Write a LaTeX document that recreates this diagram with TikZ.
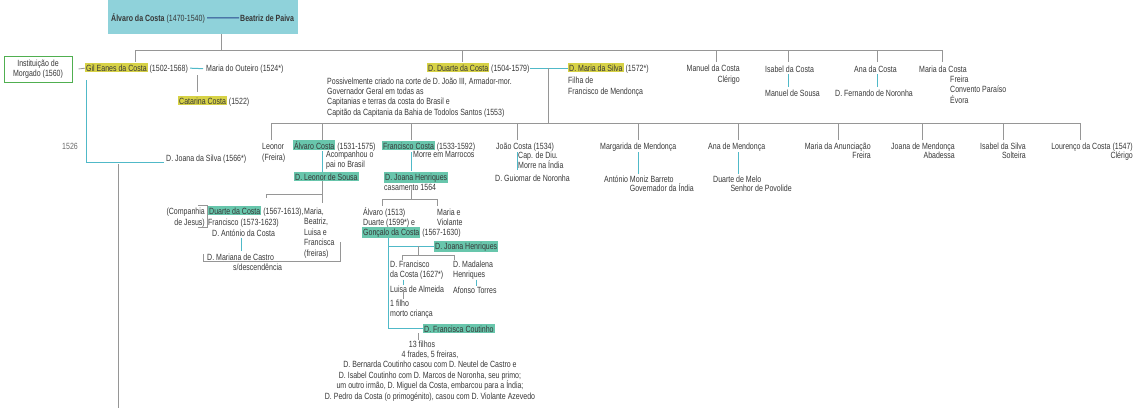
\documentclass[tikz,border=0pt]{standalone}
\usepackage{fontspec}
\setmainfont{Liberation Sans}[FakeStretch=0.78]
\usepackage{tikz}
\definecolor{hlyel}{RGB}{215,210,70}
\definecolor{hltea}{RGB}{104,198,172}
\definecolor{topbg}{RGB}{143,210,218}
\definecolor{lntea}{RGB}{80,185,200}
\definecolor{lngry}{RGB}{150,150,150}
\definecolor{txgry}{RGB}{55,55,55}
\definecolor{boxgr}{RGB}{80,175,80}
\definecolor{lnblu}{RGB}{40,70,140}
\tikzset{
	lbl/.style    = {anchor=base west, inner sep=0pt, text=txgry, align=left},
	lblr/.style   = {anchor=base east, inner sep=0pt, text=txgry, align=right},
	lblc/.style   = {anchor=base, inner sep=0pt, text=txgry, align=center},
	topbox/.style = {fill=topbg, minimum width=190pt, minimum height=34pt, inner sep=0pt},
	inst/.style   = {draw=boxgr, line width=1pt, minimum width=68pt,
		minimum height=26pt, align=center, text=txgry, inner sep=1pt},
	gline/.style  = {draw=lngry, line width=0.8pt},
	tline/.style  = {draw=lntea, line width=1pt},
	bline/.style  = {draw=lnblu, line width=1pt}
}
\newcommand{\ylw}[1]{{\setlength{\fboxsep}{1pt}\colorbox{hlyel}{#1}}}
\newcommand{\tea}[1]{{\setlength{\fboxsep}{1pt}\colorbox{hltea}{#1}}}

\begin{document}
\begin{tikzpicture}[x=1pt, y=-1pt, font=\fontsize{9}{10.5}\selectfont]
	\useasboundingbox (0,0) rectangle (1139,408);

	% casal inicial
	\node[topbox] (a0) at (203,17) {};
	\draw
	node at (111,21)[lbl] (a1) {\textbf{Álvaro da Costa} (1470-1540)}
	node at (240,21)[lbl] (a2) {\textbf{Beatriz de Paiva}};
	\draw[bline] ([xshift=2pt]a1.east) -- ([xshift=-1pt]a2.west);

	% filhos
	\coordinate (k0) at (221,34);
	\foreach \x/\n in {221/t0,135/t1,462/t2,716/t3,788/t4,877/t5,942/t6}
		\coordinate (\n) at (\x,50);
	\draw[gline] (k0) -- (t0);
	\draw[gline] (t1) -- (t6);
	\foreach \n in {t1,t2,t3,t4,t5,t6}
		\draw[gline] (\n) -- ++(0,12);

	\draw
	node at (38,69)[inst] (in) {Instituição de\\Morgado (1560)}
	node at (85,71)[lbl] (gil) {\ylw{Gil Eanes da Costa} (1502-1568)}
	node at (206,71)[lbl] (mou) {Maria do Outeiro (1524*)}
	node at (178,104)[lbl] (cat) {\ylw{Catarina Costa} (1522)}
	node at (62,149)[lbl, text=lngry!70!black] (y1) {1526}
	node at (166,161)[lbl] (jsi) {D. Joana da Silva (1566*)};
	\draw[gline] ([xshift=6pt]in.east) -- (gil.west);
	\draw[tline] ([xshift=2pt]gil.east) -- ([xshift=-3pt]mou.west);
	\coordinate (c1) at (197,75);
	\draw[gline] (c1) -- ++(0,17);
	\draw[tline] ([xshift=1pt,yshift=-7pt]gil.south west) |- ([xshift=-2pt,yshift=-1pt]jsi.base west);
	\coordinate (c3) at (118,164);
	\coordinate (c4) at (118,408);
	\draw[gline] (c3) -- (c4);

	\draw
	node at (427,71)[lbl] (dua) {\ylw{D. Duarte da Costa} (1504-1579)}
	node at (568,71)[lbl] (msi) {\ylw{D. Maria da Silva} (1572*)}
	node at (568,94)[lbl] (msf) {Filha de\\Francisco de Mendonça}
	node at (327,115)[lbl, font=\fontsize{9}{10.3}\selectfont] (dud) {Possivelmente criado na corte de D. João III, Armador-mor.\\Governador Geral em todas as\\Capitanias e terras da costa do Brasil e\\Capitão da Capitania da Bahia de Todolos Santos (1553)};
	\draw[tline] (dua.east) -- (msi.west);
	\coordinate (m1) at (548,68);
	\coordinate (u0) at (548,123);
	\draw[gline] (m1) -- (u0);

	\draw
	node at (740,82)[lblr] (man) {Manuel da Costa\\Clérigo}
	node at (765,72)[lbl] (isa) {Isabel da Costa}
	node at (765,96)[lbl] (msou) {Manuel de Sousa}
	node at (854,72)[lbl] (ana) {Ana da Costa}
	node at (835,96)[lbl] (fno) {D. Fernando de Noronha}
	node at (919,72)[lbl] (mco) {Maria da Costa}
	node at (950,103)[lbl] (mcn) {Freira\\Convento Paraíso\\Évora};
	\draw[tline, shorten <=2pt, shorten >=2pt] (isa.south -| t4) -- (msou.north -| t4);
	\draw[tline, shorten <=2pt, shorten >=2pt] (ana.south -| t5) -- (fno.north -| t5);

	% netos
	\foreach \x/\n in {271/u1,322/u2,411/u3,517/u4,638/u5,738/u6,838/u7,922/u8,1003/u9,1080/u10}
		\coordinate (\n) at (\x,123);
	\draw[gline] (u1) -- (u10);
	\foreach \n in {u1,u2,u3,u4,u5,u6,u7,u8,u9,u10}
		\draw[gline] (\n) -- ++(0,17);

	\draw
	node at (262,160)[lbl] (leo) {Leonor\\(Freira)}
	node at (293,149)[lbl] (alv) {\tea{Álvaro Costa} (1531-1575)}
	node at (326,167.5)[lbl] (alvn) {Acompanhou o\\pai no Brasil}
	node at (294,180)[lbl] (lso) {\tea{D. Leonor de Sousa}}
	node at (205,225)[lblr] (cia) {(Companhia\\de Jesus)}
	node at (208,214)[lbl] (dco) {\tea{Duarte da Costa} (1567-1613),}
	node at (208,225)[lbl] (fco) {Francisco (1573-1623)}
	node at (212,236)[lbl] (ant) {D. António da Costa}
	node at (207,260)[lbl] (mca) {D. Mariana de Castro}
	node at (233,270)[lbl] (sde) {s/descendência}
	node at (304,256)[lbl] (mbl) {Maria,\\Beatriz,\\Luisa e\\Francisca\\(freiras)};
	\draw[tline] (alv.south -| u2) -- (lso.north -| u2);
	\coordinate (v1) at (266,194);
	\coordinate (v2) at (322,194);
	\coordinate (v3) at (322,203);
	\draw[gline] (lso.south -| u2) -- (v3);
	\draw[gline] (v2) -- (v1) -- ++(0,4);
	\draw[gline, line width=0.6pt] ([xshift=-7pt,yshift=2pt]cia.north east) -| ([xshift=2pt]cia.south east) -- ++(-9,0);
	\draw[tline, shorten <=2pt, shorten >=2pt] ([xshift=29pt]ant.south west) -- ([xshift=34pt]mca.north west);
	\coordinate (w1) at (203,254);
	\coordinate (w2) at (340,242);
	\draw[gline, line width=0.6pt] (w1) -- ++(0,7) -| (w2);

	\draw
	node at (382,149)[lbl] (fra) {\tea{Francisco Costa} (1533-1592)}
	node at (413,157)[lbl] (fran) {Morre em Marrocos}
	node at (384,180)[lbl] (jhe) {\tea{D. Joana Henriques}}
	node at (384,190)[lbl] (cas) {casamento 1564}
	node at (363,225.5)[lbl] (alv2) {Álvaro (1513)\\Duarte (1599*) e}
	node at (362,235)[lbl] (gon) {\tea{Gonçalo da Costa} (1567-1630)}
	node at (437,225.5)[lbl] (mvi) {Maria e\\Violante}
	node at (434,249)[lbl] (jh2) {\tea{D. Joana Henriques}}
	node at (390,277.5)[lbl] (dfr) {D. Francisco\\da Costa (1627*)}
	node at (453,277.5)[lbl] (dma) {D. Madalena\\Henriques}
	node at (390,292)[lbl] (lal) {Luisa de Almeida}
	node at (390,316.5)[lbl] (fil) {1 filho\\morto criança}
	node at (453,293)[lbl] (ato) {Afonso Torres}
	node at (423,332)[lbl] (fcu) {\tea{D. Francisca Coutinho}}
	node at (422,347)[lblc] (f13) {13 filhos}
	node at (430,399)[lblc] (fdt) {4 frades, 5 freiras,\\D. Bernarda Coutinho casou com D. Neutel de Castro e\\D. Isabel Coutinho com D. Marcos de Noronha, seu primo;\\um outro irmão, D. Miguel da Costa, embarcou para a Índia;\\D. Pedro da Costa (o primogénito), casou com D. Violante Azevedo};
	\draw[tline, shorten <=1pt, shorten >=1pt] (fra.south -| u3) -- (jhe.north -| u3);
	\coordinate (x1) at (411,199);
	\coordinate (x2) at (382,199);
	\coordinate (x3) at (437,199);
	\draw[gline] (cas.south -| x1) -- (x1);
	\draw[gline] (x2) -- (x3);
	\draw[gline] (x2) -- ++(0,7);
	\draw[gline] (x3) -- ++(0,7);
	\coordinate (g1) at ([xshift=26pt]gon.south west);
	\draw[tline] (g1) |- (fcu.west);
	\draw[tline] (g1 |- jh2.west) -- (jh2.west);
	\coordinate (h1) at (418,246);
	\coordinate (h2) at (402,255);
	\coordinate (h3) at (454,255);
	\draw[gline] (h1) -- (h1 |- h2);
	\draw[gline] (h2) -- (h3);
	\draw[gline] (h2) -- ++(0,5);
	\draw[gline] (h3) -- ++(0,5);
	\draw[tline, line width=0.6pt] ([xshift=13pt]dfr.south west) -- ([xshift=13pt]lal.north west);
	\draw[gline, line width=0.6pt] ([xshift=13pt]lal.south west) -- ([xshift=13pt]fil.north west);
	\draw[tline, line width=0.6pt] ([xshift=23pt]dma.south west) -- ([xshift=23pt]ato.north west);
	\draw[gline, line width=0.6pt] (h1 |- fcu.south) -- (h1 |- f13.north);

	\draw
	node at (496,149)[lbl] (joa) {João Costa (1534)}
	node at (518,168.5)[lbl] (joan) {Cap. de Diu.\\Morre na Índia}
	node at (495,181)[lbl] (gui) {D. Guiomar de Noronha}
	node at (600,149)[lbl] (mar) {Margarida de Mendonça}
	node at (604,182)[lbl] (amb) {António Moniz Barreto}
	node at (694,191)[lblr] (gov) {Governador da Índia}
	node at (708,149)[lbl] (anm) {Ana de Mendonça}
	node at (713,182)[lbl] (dme) {Duarte de Melo}
	node at (792,191)[lblr] (spo) {Senhor de Povolide}
	node at (871,158)[lblr] (mad) {Maria da Anunciação\\[-1.5pt]Freira}
	node at (955,158)[lblr] (jme) {Joana de Mendonça\\[-1.5pt]Abadessa}
	node at (1026,158)[lblr] (isi) {Isabel da Silva\\[-1.5pt]Solteira}
	node at (1133,158)[lblr] (lou) {Lourenço da Costa (1547)\\[-1.5pt]Clérigo};
	\draw[tline, shorten <=1pt, shorten >=4pt] (joa.south -| u4) -- (gui.north -| u4);
	\draw[tline, shorten <=1pt, shorten >=1pt] (mar.south -| u5) -- (amb.north -| u5);
	\draw[tline, shorten <=1pt, shorten >=1pt] (anm.south -| u6) -- (dme.north -| u6);
\end{tikzpicture}
\end{document}
